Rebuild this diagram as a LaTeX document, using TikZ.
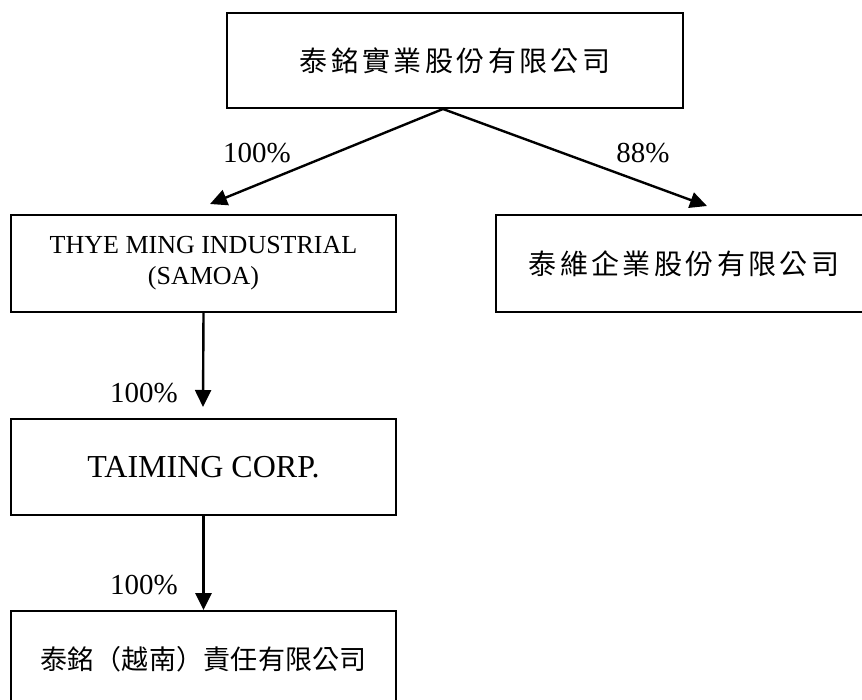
\documentclass[tikz,border=0pt]{standalone}
\usepackage{fontspec}
\setmainfont{Liberation Serif}
\newfontfamily\cjk{Noto Sans CJK TC}
\usetikzlibrary{arrows.meta,calc}
\begin{document}
\begin{tikzpicture}[x=1pt,y=-1pt,
  box/.style={draw,line width=1.8pt,inner sep=0pt,align=center},
  conn/.style={line width=2.4pt,-{Triangle[length=17pt,width=16pt]}},
  pct/.style={font=\fontsize{29}{30}\selectfont},
  zh/.style={font=\cjk\fontsize{28}{30}\selectfont\addfontfeature{LetterSpace=12}}]
\useasboundingbox (0,0) rectangle (862,700);
\node[box,minimum width=456pt,minimum height=95pt,zh] (top) at (455,60.5) {泰銘實業股份有限公司};
\node[box,minimum width=385pt,minimum height=97pt,font=\fontsize{26}{31}\selectfont] (samoa) at (203.5,263.5) {THYE MING INDUSTRIAL\\(SAMOA)};
\node[box,minimum width=376pt,minimum height=97pt,zh] (taiwei) at (684,263.5) {泰維企業股份有限公司};
\node[box,minimum width=385pt,minimum height=96pt,font=\fontsize{32}{34}\selectfont] (corp) at (203.5,467) {TAIMING CORP.};
\node[box,minimum width=385pt,minimum height=96pt,font=\cjk\fontsize{27}{29}\selectfont\addfontfeature{LetterSpace=1}] (vn) at (203.5,659) {\raisebox{3pt}{泰銘（越南）責任有限公司}};
\coordinate (apex) at (443,109);
\coordinate (tipL) at (210,204);
\coordinate (tipR) at (707,206);
\coordinate (tipC) at (203,407);
\draw[conn] (apex) -- (tipL);
\draw[conn] (apex) -- (tipR);
\draw[conn] (samoa.south) -- (tipC);
\draw[conn] (corp.south) -- (vn.north);
\node[pct] (p1) at (257,153) {100\%};
\node[pct] (p2) at (643,153) {88\%};
\node[pct] (p3) at (144,393) {100\%};
\node[pct] (p4) at (144,585) {100\%};
\end{tikzpicture}
\end{document}
